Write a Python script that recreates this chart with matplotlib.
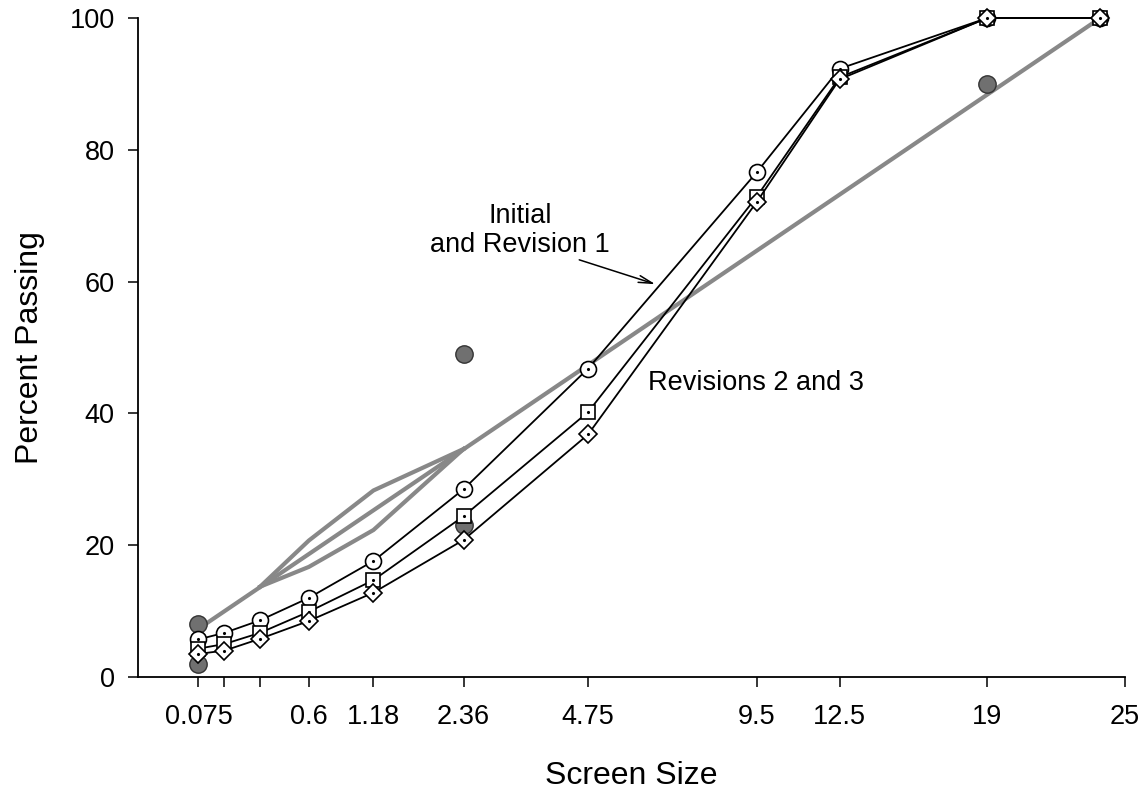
"""
Gradation chart (0.45 power scale) - trial blends vs. control points,
restricted zone and maximum density line.
"""
import matplotlib
matplotlib.use("Agg")
import matplotlib.pyplot as plt
import numpy as np

plt.rcParams["font.family"] = ["Liberation Sans", "DejaVu Sans"]

# sieve sizes (mm)
sieves = [0.075, 0.15, 0.3, 0.6, 1.18, 2.36, 4.75, 9.5, 12.5, 19, 25]

# percent passing for the three blends
blend_circle  = [5.7, 6.7, 8.6, 12.0, 17.6, 28.5, 46.8, 76.6, 92.3, 100, 100]
blend_square  = [4.3, 5.0, 6.7, 9.9, 14.7, 24.4, 40.2, 72.9, 91.0, 100, 100]
blend_diamond = [3.5, 4.0, 5.8, 8.5, 12.8, 20.8, 36.8, 72.1, 90.7, 100, 100]

# control points
ctrl_sieves = [0.075, 0.075, 2.36, 2.36, 19]
ctrl_values = [2, 8, 23, 49, 90]

# restricted zone boundaries
rz_sieves = [0.3, 0.6, 1.18, 2.36]
rz_upper  = [13.7, 20.7, 28.3, 34.6]
rz_lower  = [13.7, 16.7, 22.3, 34.6]

# maximum density line
mdl_sieves = [0.075, 25]
mdl_values = [7.3, 100]

# x tick marks (last one sits at the axis end, labelled 25)
tick_sieves = [0.075, 0.15, 0.3, 0.6, 1.18, 2.36, 4.75, 9.5, 12.5, 19, 26.43]
tick_labels = ["0.075", "", "", "0.6", "1.18", "2.36", "4.75", "9.5", "12.5", "19", "25"]


def fwd(x):
    return np.power(np.clip(x, 0, None), 0.45)


def inv(x):
    return np.power(np.clip(x, 0, None), 1 / 0.45)


fig = plt.figure(figsize=(11.46, 7.89), dpi=100)
ax = fig.add_axes([0.1202, 0.142, 0.9817 - 0.1202, 0.9772 - 0.142])
ax.set_xscale("function", functions=(fwd, inv))

GRAY = "#888888"
ax.plot(mdl_sieves, mdl_values, color=GRAY, lw=3, zorder=1, solid_capstyle="butt")
ax.plot(rz_sieves, rz_upper, color=GRAY, lw=3, zorder=1)
ax.plot(rz_sieves, rz_lower, color=GRAY, lw=3, zorder=1)

ax.plot(ctrl_sieves, ctrl_values, "o", ms=12.5, mfc="#707070", mec="#333333",
        mew=1.0, zorder=2)

series = [(blend_circle, "o", 11.5), (blend_square, "s", 10), (blend_diamond, "D", 9)]
for k, (vals, mk, ms) in enumerate(series):
    z = 3 + k
    ax.plot(sieves, vals, color="black", lw=1.3, marker=mk, ms=ms, mfc="white",
            mec="black", mew=1.2, zorder=z, clip_on=False)
    ax.plot(sieves, vals, ".", color="black", ms=2.5, zorder=z, clip_on=False)

ax.set_xlim(0.00109, 26.43)
ax.set_ylim(0, 100)
ax.set_xticks(tick_sieves)
ax.set_xticklabels(tick_labels)
ax.set_yticks([0, 20, 40, 60, 80, 100])
ax.xaxis.set_minor_locator(matplotlib.ticker.NullLocator())

for s in ["top", "right"]:
    ax.spines[s].set_visible(False)
for s in ["left", "bottom"]:
    ax.spines[s].set_linewidth(1.3)

ax.tick_params(axis="x", direction="out", length=7.5, width=1.1, pad=12, labelsize=19.5)
ax.tick_params(axis="y", direction="out", length=7.5, width=1.1, pad=9, labelsize=19.5)

ax.set_xlabel("Screen Size", fontsize=23, labelpad=22)
ax.set_ylabel("Percent Passing", fontsize=23, labelpad=18)

ax.text(3.335, 67.8, "Initial\nand Revision 1", ha="center", va="center",
        fontsize=19.5, linespacing=1.15)
ax.annotate("", xy=(6.43, 59.6), xytext=(4.55, 63.3),
            arrowprops=dict(arrowstyle="->,head_length=1.0,head_width=0.25",
                            color="black", lw=1.1, shrinkA=0, shrinkB=0))
ax.text(6.24, 44.6, "Revisions 2 and 3", ha="left", va="center", fontsize=19.5)

plt.savefig("out.png", dpi=100)
